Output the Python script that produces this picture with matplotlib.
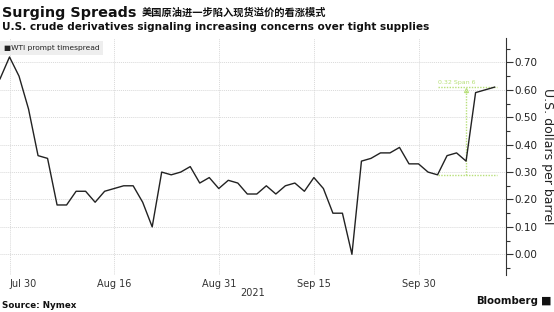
import matplotlib
matplotlib.use("Agg")
import matplotlib.pyplot as plt
from matplotlib.ticker import MultipleLocator, FixedLocator
import pandas as pd

# trading days Jul 29 - Oct 12 2021 (Labor Day closed)
dates = pd.bdate_range("2021-07-29", "2021-10-12")
dates = dates[dates != pd.Timestamp("2021-09-06")]

spread = [0.64, 0.72, 0.65, 0.53, 0.36, 0.35, 0.18, 0.18, 0.23, 0.23,
          0.19, 0.23, 0.24, 0.25, 0.25, 0.19, 0.10, 0.30, 0.29, 0.30,
          0.32, 0.26, 0.28, 0.24, 0.27, 0.26, 0.22, 0.22, 0.25, 0.22,
          0.25, 0.26, 0.23, 0.28, 0.24, 0.15, 0.15, 0.00, 0.34, 0.35,
          0.37, 0.37, 0.39, 0.33, 0.33, 0.30, 0.29, 0.36, 0.37, 0.34,
          0.59, 0.60, 0.61]

tick_dates = ["2021-07-30", "2021-08-16", "2021-08-31", "2021-09-15", "2021-09-30"]
tick_labels = ["Jul 30", "Aug 16", "Aug 31", "Sep 15", "Sep 30"]
yticks = [0.0, 0.1, 0.2, 0.3, 0.4, 0.5, 0.6, 0.7]

# span annotation: recent low -> last point
low_i = 46
last_i = len(spread) - 1

green = "#b8e07a"
grid = "#d9d9d9"

fig = plt.figure(figsize=(5.54, 3.12), dpi=100)
ax = fig.add_axes([0.0, 0.1186, 0.9134, 0.7594])

x = list(range(len(spread)))
ax.plot(x, spread, color="#222222", lw=1.0, zorder=3)

ax.set_xlim(0, 53.2)
ax.set_ylim(-0.0755, 0.789)

pos = [list(dates).index(pd.Timestamp(d)) for d in tick_dates]
ax.xaxis.set_major_locator(FixedLocator(pos))
ax.set_xticklabels(tick_labels)
ax.tick_params(axis="x", length=0, pad=3, labelsize=7, labelcolor="#333333")
first = ax.get_xticklabels()[0]
first.set_ha("left")

ax.yaxis.tick_right()
ax.yaxis.set_label_position("right")
ax.set_yticks(yticks)
ax.set_yticklabels([f"{v:.2f}" for v in yticks])
ax.yaxis.set_minor_locator(MultipleLocator(0.05))
ax.tick_params(axis="y", which="major", length=5, width=0.8, color="#333333",
               labelsize=7.5, labelcolor="#222222", pad=1)
ax.tick_params(axis="y", which="minor", length=3, width=0.8, color="#333333")
ax.set_ylabel("U.S. dollars per barrel", rotation=-90, fontsize=9,
              color="#222222", labelpad=12)

for s in ["top", "left", "bottom"]:
    ax.spines[s].set_visible(False)
ax.spines["right"].set_color("#333333")
ax.spines["right"].set_linewidth(0.8)

ax.grid(True, which="major", color=grid, lw=0.7, ls=(0, (1, 1)))
ax.set_axisbelow(True)

# span annotation
lo = spread[low_i]
hi = spread[last_i]
mid = (low_i + last_i) / 2
ax.plot([low_i, 52.2], [lo, lo], color=green, lw=1, ls=(0, (1, 1)), zorder=2)
ax.plot([low_i, 52.2], [hi, hi], color=green, lw=1, ls=(0, (1, 1)), zorder=2)
ax.plot([mid, mid], [lo, hi - 0.01], color=green, lw=1, ls=(0, (1, 1)), zorder=2)
ax.plot([mid], [hi - 0.012], marker="^", ms=3, mfc="none", mec=green, mew=0.8)
ax.text(low_i + 0.1, hi + 0.008, f"{hi - lo:.2f} Span {last_i - low_i}",
        fontsize=4.5, color=green, va="bottom", ha="left")

# legend box
ax.text(0.007, 0.972, "\u25a0WTI prompt timespread", transform=ax.transAxes,
        fontsize=5.4, color="#222222", va="top", ha="left",
        bbox=dict(boxstyle="square,pad=0.55", fc="#eeeeee", ec="none"))

fig.text(253 / 554, 1 - 293 / 312, "2021", fontsize=7, color="#333333",
         ha="center", va="center")

# titles
fig.text(0.004, 1 - 13 / 312, "Surging Spreads", fontsize=10.4, fontweight="bold",
         color="#111111", va="center", ha="left")
fig.text(142 / 554, 1 - 13 / 312, "美国原油进一步陷入现货溢价的看涨模式",
         fontsize=7.4, fontweight="bold", color="#111111", va="center", ha="left",
         family=["Noto Sans CJK SC", "DejaVu Sans"])
fig.text(0.004, 1 - 27 / 312,
         "U.S. crude derivatives signaling increasing concerns over tight supplies",
         fontsize=7.6, fontweight="bold", color="#111111", va="center", ha="left")

fig.text(0.004, 1 - 305 / 312, "Source: Nymex", fontsize=6.3, fontweight="bold",
         color="#111111", va="center", ha="left")
fig.text(538 / 554, 1 - 301 / 312, "Bloomberg", fontsize=7.3, fontweight="bold",
         color="#111111", va="center", ha="right")
fig.text(546 / 554, 1 - 301 / 312, "\u25a0", fontsize=8, color="#111111",
         va="center", ha="center")

fig.savefig("out.png", dpi=100)
